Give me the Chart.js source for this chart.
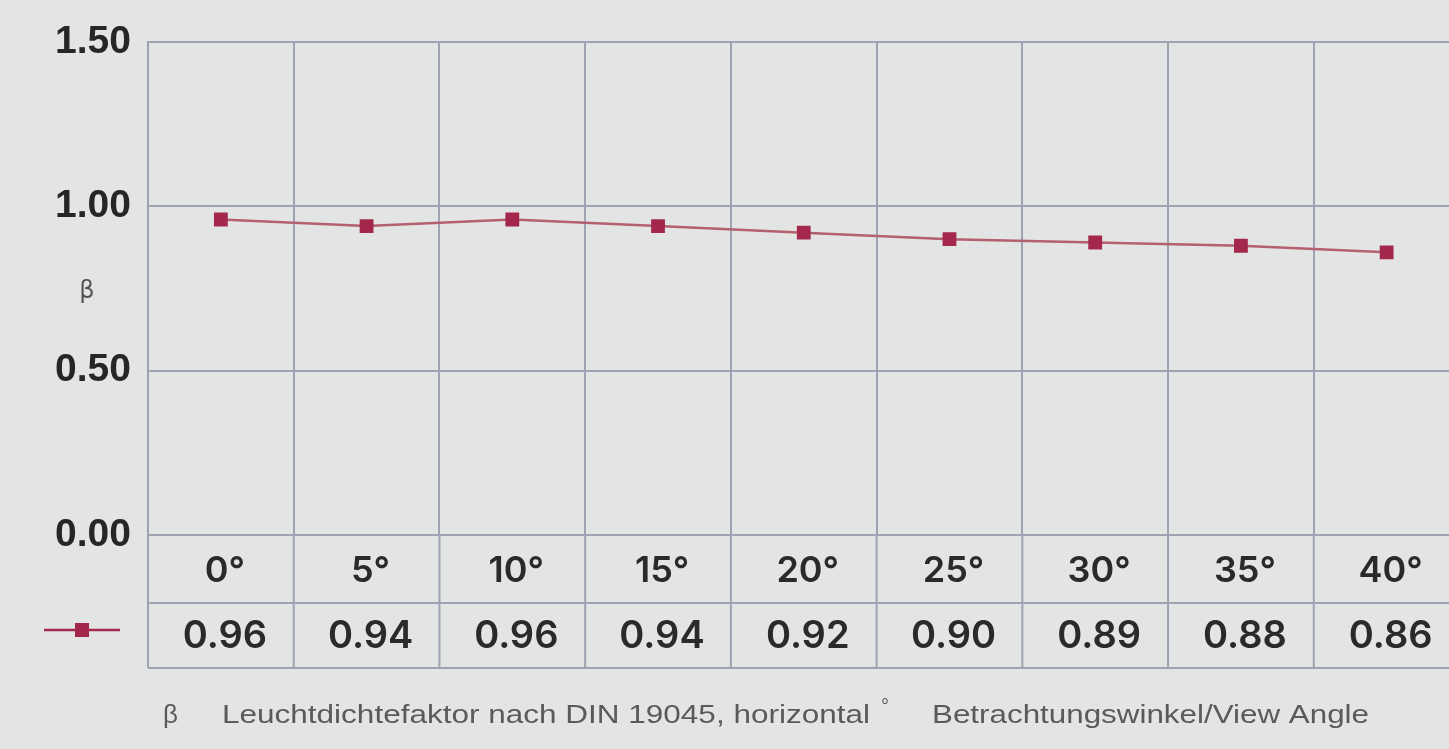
<!DOCTYPE html>
<html>
<head>
<meta charset="utf-8">
<script src="https://cdn.jsdelivr.net/npm/chart.js@4.4.1/dist/chart.umd.min.js"></script>
<style>
  html, body { margin: 0; padding: 0; background: #e3e5e4; overflow: hidden; }
  #wrap { position: absolute; left: 0; top: 0; width: 1470px; height: 749px; }
</style>
</head>
<body>
<div id="wrap"><canvas id="beta-Chart" width="1470" height="749"></canvas></div>
<script>
// view angles (degrees) and luminance factor beta
const angles = ['0°', '5°', '10°', '15°', '20°', '25°', '30°', '35°', '40°'];
const betaValues = [0.96, 0.94, 0.96, 0.94, 0.92, 0.90, 0.89, 0.88, 0.86];
const yTicks = [0, 0.5, 1.0, 1.5];
const footNote = ['β', 'Leuchtdichtefaktor nach DIN 19045, horizontal', '°', 'Betrachtungswinkel/View Angle'];

document.addEventListener('DOMContentLoaded', function(){
    const gridColor = '#9ea3b3';
    const markColor = '#a3284c';
    const lineColor = '#b3606f';

    // write text stretched to a given width
    function fitText(ctx, text, x, y, width) {
        const w = ctx.measureText(text).width;
        ctx.save();
        ctx.translate(x, y);
        ctx.scale(width / w, 1);
        ctx.fillText(text, 0, 0);
        ctx.restore();
    }

    // draws the value table under the plot, the legend sample and the notes
    const tablePlugin = {
        id: 'tablePlugin',
        afterDraw(chart) {
            const ctx = chart.ctx;
            const area = chart.chartArea;
            const x = chart.scales.x;
            const half = (x.getPixelForValue(1) - x.getPixelForValue(0)) / 2;
            const row1 = 603, row2 = 668;

            ctx.save();
            ctx.strokeStyle = gridColor;
            ctx.lineWidth = 2;
            ctx.beginPath();
            ctx.moveTo(area.left, row1); ctx.lineTo(area.right, row1);
            ctx.moveTo(area.left, row2); ctx.lineTo(area.right, row2);
            ctx.moveTo(area.left, area.bottom); ctx.lineTo(area.left, row2);
            angles.forEach((a, i) => {
                const xr = x.getPixelForValue(i) + half;
                ctx.moveTo(xr, area.bottom); ctx.lineTo(xr, row2);
            });
            ctx.stroke();

            ctx.fillStyle = '#2a2a2a';
            ctx.textAlign = 'center';
            ctx.textBaseline = 'middle';
            ctx.font = '600 36px Inter';
            angles.forEach((a, i) => {
                ctx.fillText(a, x.getPixelForValue(i) + 4, 571);
            });
            ctx.font = '600 38px Inter';
            betaValues.forEach((v, i) => {
                ctx.fillText(v.toFixed(2), x.getPixelForValue(i) + 4, 637);
            });

            // legend sample
            ctx.strokeStyle = markColor;
            ctx.lineWidth = 2.5;
            ctx.beginPath();
            ctx.moveTo(44, 630); ctx.lineTo(120, 630);
            ctx.stroke();
            ctx.fillStyle = markColor;
            ctx.fillRect(75, 623, 14, 14);

            // beta axis label
            ctx.fillStyle = '#555';
            ctx.font = '24px "DejaVu Sans"';
            ctx.fillText('β', 87, 292);

            // foot note
            ctx.fillStyle = '#5a5a5a';
            ctx.textAlign = 'left';
            ctx.font = '26px "Liberation Sans"';
            ctx.fillText(footNote[0], 163, 716);
            fitText(ctx, footNote[1], 222, 716, 648);
            ctx.font = '20px "Liberation Sans"';
            ctx.fillText(footNote[2], 881, 707);
            ctx.font = '26px "Liberation Sans"';
            fitText(ctx, footNote[3], 932, 716, 437);
            ctx.restore();
        }
    };

    const data = {
        labels: angles,
        datasets: [{
            label: 'β',
            data: betaValues,
            borderColor: lineColor,
            borderWidth: 2.5,
            backgroundColor: markColor,
            pointStyle: 'rect',
            pointRadius: 8,
            pointBackgroundColor: markColor,
            pointBorderColor: markColor,
            tension: 0
        }]
    };

    const options = {
        responsive: false,
        animation: false,
        layout: {
            padding: { left: 0, top: 42, right: 8, bottom: 214 }
        },
        plugins: {
            legend: { display: false },
            tooltip: { enabled: false }
        },
        scales: {
            x: {
                offset: true,
                ticks: { display: false },
                grid: {
                    offset: true,
                    color: gridColor,
                    lineWidth: 2,
                    drawTicks: false
                },
                border: { display: false }
            },
            y: {
                min: 0,
                max: 1.5,
                afterFit: function(scale) { scale.width = 148; },
                afterBuildTicks: function(scale) {
                    scale.ticks = yTicks.map(v => ({ value: v }));
                },
                ticks: {
                    padding: 17,
                    color: '#262626',
                    font: { family: 'Liberation Sans', size: 39, weight: 'bold' },
                    callback: function(v) { return Number(v).toFixed(2); }
                },
                grid: {
                    color: gridColor,
                    lineWidth: 2,
                    drawTicks: false
                },
                border: { color: gridColor, width: 2 }
            }
        }
    };

    new Chart(document.getElementById('beta-Chart').getContext('2d'), {
        type: 'line',
        data: data,
        options: options,
        plugins: [tablePlugin]
    });
});
</script>
</body>
</html>
